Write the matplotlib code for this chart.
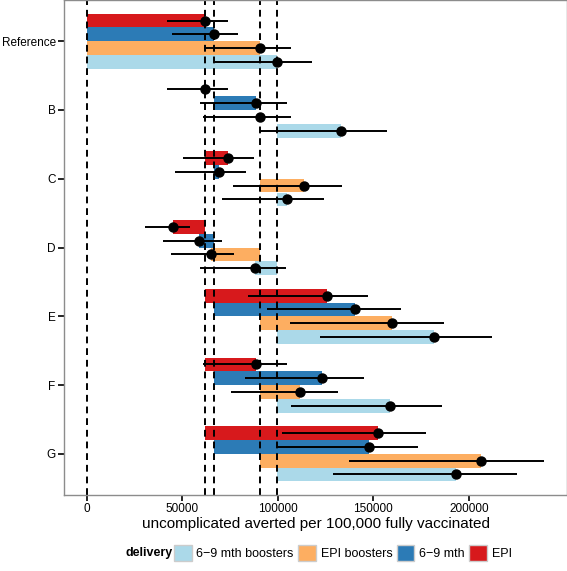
import numpy as np
import matplotlib
matplotlib.use("Agg")
import matplotlib.pyplot as plt
from matplotlib.patches import Patch

plt.rcParams['font.family'] = ['Liberation Sans', 'DejaVu Sans']

scenarios = ['Reference', 'B', 'C', 'D', 'E', 'F', 'G']
deliveries = ['EPI', '6\u22129 mth', 'EPI boosters', '6\u22129 mth boosters']
colors = ['#D7191C', '#2C7BB6', '#FDAE61', '#ABD9E9']

# point estimates, rows = scenarios, columns = deliveries (same order as above)
mean = [
    [61800, 66300, 90500, 99300],
    [61800, 88400, 90500, 132800],
    [74100, 69400, 113900, 104800],
    [44900, 58900, 64900, 88000],
    [125500, 140300, 159900, 181900],
    [88700, 123100, 111500, 158500],
    [152400, 147900, 206100, 193100],
]
lower = [
    [41700, 44400, 61100, 67200],
    [41700, 59000, 60800, 89900],
    [50300, 46400, 76700, 70700],
    [30600, 39600, 44300, 59400],
    [84500, 94100, 106600, 121900],
    [60600, 82800, 75700, 106800],
    [102400, 99300, 137000, 128800],
]
upper = [
    [73800, 79000, 107100, 117900],
    [73800, 104900, 107100, 157100],
    [87500, 83200, 133500, 124000],
    [53800, 70500, 77200, 104200],
    [147100, 164600, 186800, 212300],
    [104900, 145100, 131400, 185800],
    [177600, 173400, 239100, 225000],
]

mean = np.array(mean)
lower = np.array(lower)
upper = np.array(upper)
ref = mean[0]

fig = plt.figure(figsize=(5.67, 5.71), dpi=100)
ax = fig.add_axes([64 / 567, 76 / 571, 503 / 567, 495 / 571])

ypos = np.arange(len(scenarios))[::-1] + 1.0
offsets = [0.3, 0.1, -0.1, -0.3]
h = 0.2

for i, sc in enumerate(scenarios):
    for j in range(len(deliveries)):
        y = ypos[i] + offsets[j]
        start = 0 if i == 0 else ref[j]
        ax.barh(y, mean[i, j] - start, left=start, height=h,
                color=colors[j], linewidth=0, zorder=1)

for v in [0] + list(ref):
    ax.axvline(v, color='black', linestyle=(0, (3.5, 2.5)), linewidth=1.4, zorder=2)

for i, sc in enumerate(scenarios):
    for j in range(len(deliveries)):
        y = ypos[i] + offsets[j]
        ax.plot([lower[i, j], upper[i, j]], [y, y], color='black',
                linewidth=1.4, solid_capstyle='butt', zorder=3)
        ax.plot(mean[i, j], y, 'o', color='black', markersize=6.5, zorder=4)

ax.set_xlim(-11970, 251370)
ax.set_ylim(0.4, 7.6)
ax.set_yticks(ypos)
ax.set_yticklabels(scenarios, fontsize=8.5)
ax.set_xticks([0, 50000, 100000, 150000, 200000])
ax.set_xticklabels(['0', '50000', '100000', '150000', '200000'], fontsize=8.5)
ax.tick_params(length=4, width=1.2, color='black', pad=2)
for s in ax.spines.values():
    s.set_color('#8c8c8c')
    s.set_linewidth(1.0)
ax.set_xlabel('uncomplicated averted per 100,000 fully vaccinated',
              fontsize=11, labelpad=1)

# legend, reversed order like the reference
handles = [Patch(facecolor=colors[j], edgecolor='#cccccc', linewidth=1.0)
           for j in [3, 2, 1, 0]]
labels = [deliveries[j] for j in [3, 2, 1, 0]]
fig.text(125 / 567, 1 - 553 / 571, 'delivery', fontsize=9, fontweight='bold',
         va='center', ha='left')
fig.legend(handles, labels, loc='center left', bbox_to_anchor=(174 / 567, 1 - 553 / 571),
           ncol=4, frameon=False, fontsize=9, handlelength=1.4, handleheight=1.5,
           handletextpad=0.4, columnspacing=0.35, borderaxespad=0, borderpad=0)

fig.savefig('out.png', dpi=100)
